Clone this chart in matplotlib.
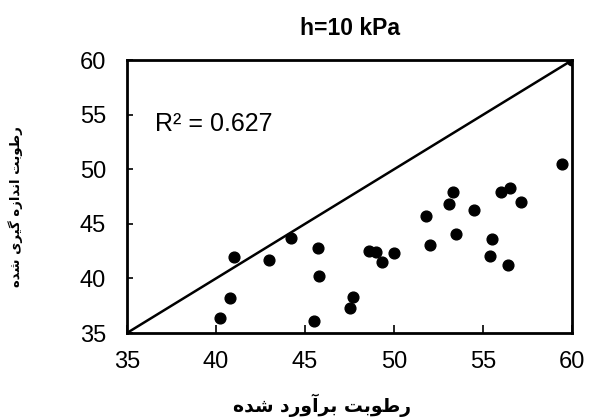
import matplotlib
matplotlib.use("Agg")
import matplotlib.pyplot as plt

# Data
estimated = [41.0, 40.8, 40.2, 43.0, 44.2, 45.7, 45.8, 45.5,
             47.7, 47.5, 48.6, 49.0, 49.3, 50.0, 51.8, 52.0,
             53.1, 53.3, 53.5, 54.5, 55.4, 55.5, 56.0, 56.5,
             56.4, 57.1, 59.4, 60.0]
measured = [42.0, 38.2, 36.4, 41.7, 43.7, 42.8, 40.2, 36.1,
            38.3, 37.3, 42.5, 42.4, 41.5, 42.3, 45.7, 43.1,
            46.8, 47.9, 44.1, 46.3, 42.1, 43.6, 47.9, 48.3,
            41.2, 47.0, 50.5, 60.0]
ticks = [35, 40, 45, 50, 55, 60]
title = "h=10 kPa"
r2_text = "R\u00b2 = 0.627"
# Persian labels (pre-shaped presentation forms, visual order)
xlabel = "\uFEE9\uFEAA\uFEB7 \uFEA9\uFEAD\uFEED\uFE81\uFEAE\uFE91 \uFE96\uFE91\uFEEE\uFEC3\uFEAD"
ylabel = ("\uFEE9\uFEAA\uFEB7 \uFBFC\uFEAE\uFBFF\uFB94 "
          "\uFEE9\uFEAF\uFE8D\uFEAA\uFEE7\uFE8D \uFE96\uFE91\uFEEE\uFEC3\uFEAD")

plt.rcParams['font.family'] = ['Liberation Sans', 'DejaVu Sans']

fig = plt.figure(figsize=(5.9, 4.2), dpi=100)
ax = fig.add_axes([0.215, 0.207, 0.755, 0.65])

ax.plot([35, 60], [35, 60], color='black', lw=1.8)
ax.scatter(estimated, measured, s=60, color='black', zorder=3)

ax.set_xlim(35, 60)
ax.set_ylim(35, 60)
ax.set_xticks(ticks)
ax.set_yticks(ticks)
ax.tick_params(axis='x', direction='in', length=6, width=1.2, pad=13, labelsize=17)
ax.tick_params(axis='y', direction='in', length=4, width=1.2, pad=15, labelsize=17)
for s in ax.spines.values():
    s.set_linewidth(2.0)

ax.text(36.6, 54.1, r2_text, fontsize=18, va='center', ha='left')
ax.set_title(title, fontsize=16.5, fontweight='bold', pad=18)
ax.set_xlabel(xlabel, fontsize=13.5, fontweight='bold', family=['DejaVu Sans'])
ax.set_ylabel(ylabel, fontsize=9.5, fontweight='bold', family=['DejaVu Sans'])
ax.xaxis.set_label_coords(0.438, -0.264)
ax.xaxis.label.set_va('center')
ax.yaxis.set_label_coords(-0.25, 0.465)
ax.yaxis.label.set_va('center')

fig.savefig("out.png", dpi=100)
